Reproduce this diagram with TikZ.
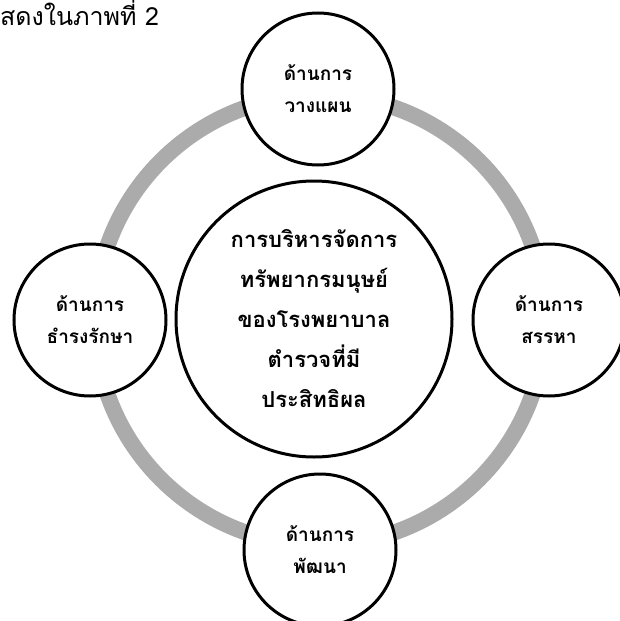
\documentclass[tikz,border=0pt]{standalone}
\usepackage{fontspec}
\newfontfamily\thaifont[Script=Thai]{Loma}
\definecolor{ringgray}{RGB}{171,171,171}
\begin{document}
\begin{tikzpicture}[x=1pt,y=-1pt,
  ring/.style={draw=ringgray,line width=16pt},
  satellite/.style={circle,draw=black,line width=3pt,fill=white,minimum size=152pt,inner sep=0pt,
    align=center,font=\thaifont\bfseries\fontsize{19}{32}\selectfont},
  hub/.style={circle,draw=black,line width=3pt,fill=white,minimum size=276pt,inner sep=0pt,
    align=center,font=\thaifont\bfseries\fontsize{22}{40}\selectfont},
  caption/.style={anchor=base west,inner sep=0pt,font=\thaifont\fontsize{25}{28}\selectfont}]
\useasboundingbox (0,0) rectangle (620,621);
\draw[ring] (320,320) circle [radius=225pt];
\node[hub] (hub) at (314,319) {การบริหารจัดการ\\ทรัพยากรมนุษย์\\ของโรงพยาบาล\\ตำรวจที่มี\\ประสิทธิผล};
\node[satellite] (plan) at (318,89) {ด้านการ\\วางแผน};
\node[satellite] (keep) at (90,320) {ด้านการ\\ธำรงรักษา};
\node[satellite] (recruit) at (549,320) {ด้านการ\\สรรหา};
\node[satellite] (develop) at (320,550) {ด้านการ\\พัฒนา};
\node[caption] (cap) at (0,25) {สดงในภาพที่ 2};
\end{tikzpicture}
\end{document}
